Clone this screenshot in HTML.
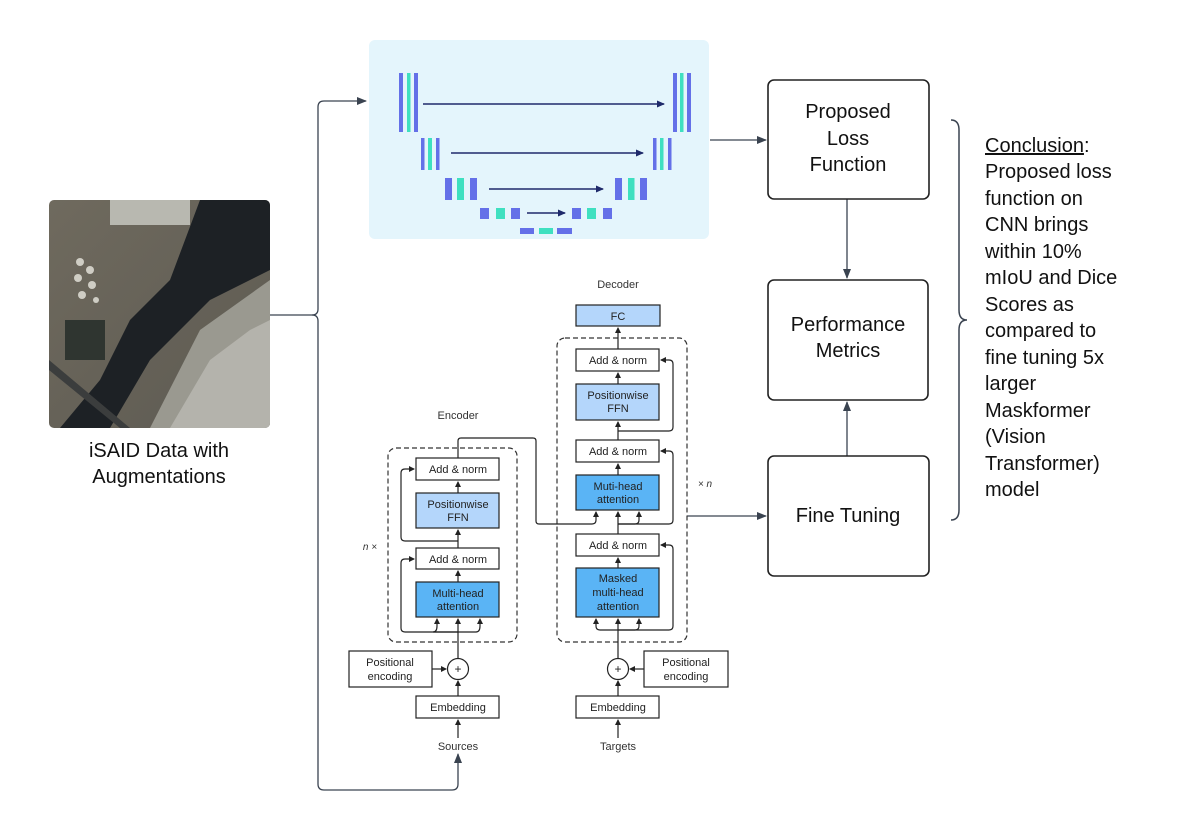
<!DOCTYPE html>
<html><head><meta charset="utf-8"><style>
html,body{margin:0;padding:0;background:#fff}
svg{display:block}
text{font-family:"Liberation Sans",sans-serif}
</style></head><body>
<svg width="1190" height="830" viewBox="0 0 1190 830" xmlns="http://www.w3.org/2000/svg">
<defs>
<marker id="ah" markerWidth="10" markerHeight="10" refX="9" refY="5" orient="auto" markerUnits="userSpaceOnUse"><path d="M0,1 L10,5 L0,9 z" fill="#3a4350"/></marker>
<marker id="as" markerWidth="6" markerHeight="6" refX="5" refY="3" orient="auto" markerUnits="userSpaceOnUse"><path d="M0,0 L6,3 L0,6 z" fill="#222"/></marker>
<marker id="au" markerWidth="8" markerHeight="8" refX="7" refY="4" orient="auto" markerUnits="userSpaceOnUse"><path d="M0,0.5 L8,4 L0,7.5 z" fill="#1f2a6b"/></marker>
<clipPath id="ic"><rect x="49" y="200" width="221" height="228" rx="5"/></clipPath>
<linearGradient id="g1" x1="0" y1="0" x2="1" y2="1"><stop offset="0" stop-color="#6f6a5e"/><stop offset="1" stop-color="#5d5a52"/></linearGradient>
</defs>

<!-- satellite image -->
<g clip-path="url(#ic)">
<rect x="49" y="200" width="221" height="228" fill="url(#g1)"/>
<rect x="110" y="200" width="80" height="25" fill="#b8b8b0"/>
<path d="M200,200 L270,200 L270,270 L210,300 L150,360 L110,428 L60,428 L100,380 L130,320 L170,280 Z" fill="#1d2125"/>
<path d="M150,428 L200,330 L270,280 L270,428 Z" fill="#9a9990"/>
<path d="M170,428 L210,360 L250,330 L270,320 L270,428 Z" fill="#b4b3ac"/>
<rect x="65" y="320" width="40" height="40" fill="#2f3530"/>
<g fill="#cfcdc4"><circle cx="80" cy="262" r="4"/><circle cx="90" cy="270" r="4"/><circle cx="78" cy="278" r="4"/><circle cx="92" cy="285" r="4"/><circle cx="82" cy="295" r="4"/><circle cx="96" cy="300" r="3"/></g>
<path d="M49,360 L130,428 L120,428 L49,370 Z" fill="#3b3d3d"/>
</g>
<text x="159" y="457" font-size="20" text-anchor="middle" fill="#111">iSAID Data with</text>
<text x="159" y="483" font-size="20" text-anchor="middle" fill="#111">Augmentations</text>

<!-- connectors left -->
<g fill="none" stroke="#3a4350" stroke-width="1.3">
<path d="M270,315 H312 Q318,315 318,309 V107 Q318,101 324,101 H366" marker-end="url(#ah)"/>
<path d="M312,315 Q318,315 318,321 V784 Q318,790 324,790 H452 Q458,790 458,784 V754" marker-end="url(#ah)"/>
<path d="M710,140 H766" marker-end="url(#ah)"/>
<path d="M847,199 V278" marker-end="url(#ah)"/>
<path d="M847,456 V402" marker-end="url(#ah)"/>
<path d="M687,516 H766" marker-end="url(#ah)"/>
</g>

<!-- U-Net panel -->
<rect x="369" y="40" width="340" height="199" rx="6" fill="#e4f5fc"/>
<g fill="#6470e8">
<rect x="399" y="73" width="4" height="59"/><rect x="414" y="73" width="4" height="59"/>
<rect x="673" y="73" width="4" height="59"/><rect x="687" y="73" width="4" height="59"/>
<rect x="421" y="138" width="3.5" height="32"/><rect x="436" y="138" width="3.5" height="32"/>
<rect x="653" y="138" width="3.5" height="32"/><rect x="668" y="138" width="3.5" height="32"/>
<rect x="445" y="178" width="7" height="22"/><rect x="470" y="178" width="7" height="22"/>
<rect x="615" y="178" width="7" height="22"/><rect x="640" y="178" width="7" height="22"/>
<rect x="480" y="208" width="9" height="11"/><rect x="511" y="208" width="9" height="11"/>
<rect x="572" y="208" width="9" height="11"/><rect x="603" y="208" width="9" height="11"/>
<rect x="520" y="228" width="14" height="6"/><rect x="557" y="228" width="15" height="6"/>
</g>
<g fill="#3fe0c0">
<rect x="407" y="73" width="3.5" height="59"/><rect x="680" y="73" width="3.5" height="59"/>
<rect x="428" y="138" width="4" height="32"/><rect x="660" y="138" width="3.5" height="32"/>
<rect x="457" y="178" width="7" height="22"/><rect x="628" y="178" width="6.5" height="22"/>
<rect x="496" y="208" width="9" height="11"/><rect x="587" y="208" width="9" height="11"/>
<rect x="539" y="228" width="14" height="6"/>
</g>
<g stroke="#1f2a6b" stroke-width="1.4">
<line x1="423" y1="104" x2="664" y2="104" marker-end="url(#au)"/>
<line x1="451" y1="153" x2="643" y2="153" marker-end="url(#au)"/>
<line x1="489" y1="189" x2="603" y2="189" marker-end="url(#au)"/>
<line x1="527" y1="213" x2="565" y2="213" marker-end="url(#au)"/>
</g>

<!-- right boxes -->
<g fill="#fff" stroke="#222" stroke-width="1.6">
<rect x="768" y="80" width="161" height="119" rx="6"/>
<rect x="768" y="280" width="160" height="120" rx="6"/>
<rect x="768" y="456" width="161" height="120" rx="6"/>
</g>
<g font-size="20" text-anchor="middle" fill="#111">
<text x="848" y="118">Proposed</text><text x="848" y="145">Loss</text><text x="848" y="171">Function</text>
<text x="848" y="331">Performance</text><text x="848" y="357">Metrics</text>
<text x="848" y="522">Fine Tuning</text>
</g>
<path d="M951,120 Q959,120 959,130 V310 Q959,320 967,320 Q959,320 959,330 V510 Q959,520 951,520" fill="none" stroke="#3a4350" stroke-width="1.5"/>
<g font-size="20" fill="#111">
<text x="985" y="152"><tspan text-decoration="underline">Conclusion</tspan>:</text>
<text x="985" y="178">Proposed loss</text>
<text x="985" y="205">function on</text>
<text x="985" y="231">CNN brings</text>
<text x="985" y="258">within 10%</text>
<text x="985" y="284">mIoU and Dice</text>
<text x="985" y="311">Scores as</text>
<text x="985" y="337">compared to</text>
<text x="985" y="364">fine tuning 5x</text>
<text x="985" y="390">larger</text>
<text x="985" y="417">Maskformer</text>
<text x="985" y="443">(Vision</text>
<text x="985" y="470">Transformer)</text>
<text x="985" y="496">model</text>
</g>

<!-- transformer -->
<g font-size="11" fill="#333" text-anchor="middle">
<text x="618" y="288">Decoder</text>
<text x="458" y="419">Encoder</text>
<text x="370" y="550" font-style="italic" font-size="10">n ×</text>
<text x="705" y="487" font-style="italic" font-size="10">× n</text>
<text x="458" y="750">Sources</text>
<text x="618" y="750">Targets</text>
</g>
<g fill="none" stroke="#333" stroke-width="1.2" stroke-dasharray="5,3">
<rect x="388" y="448" width="129" height="194" rx="8"/>
<rect x="557" y="338" width="130" height="304" rx="8"/>
</g>
<g stroke="#222" stroke-width="1.2">
<rect x="576" y="305" width="84" height="21" fill="#b4d6fb"/>
<rect x="576" y="349" width="83" height="22" fill="#fff"/>
<rect x="576" y="384" width="83" height="36" fill="#b4d6fb"/>
<rect x="576" y="440" width="83" height="22" fill="#fff"/>
<rect x="576" y="475" width="83" height="35" fill="#5ab4f5"/>
<rect x="576" y="534" width="83" height="22" fill="#fff"/>
<rect x="576" y="568" width="83" height="49" fill="#5ab4f5"/>
<rect x="644" y="651" width="84" height="36" fill="#fff"/>
<rect x="576" y="696" width="83" height="22" fill="#fff"/>
<rect x="416" y="458" width="83" height="22" fill="#fff"/>
<rect x="416" y="493" width="83" height="35" fill="#b4d6fb"/>
<rect x="416" y="548" width="83" height="21" fill="#fff"/>
<rect x="416" y="582" width="83" height="35" fill="#5ab4f5"/>
<rect x="349" y="651" width="83" height="36" fill="#fff"/>
<rect x="416" y="696" width="83" height="22" fill="#fff"/>
<circle cx="458" cy="669" r="10.5" fill="#fff"/>
<circle cx="618" cy="669" r="10.5" fill="#fff"/>
</g>
<g font-size="11" fill="#222" text-anchor="middle">
<text x="618" y="320">FC</text>
<text x="618" y="364">Add &amp; norm</text>
<text x="618" y="399">Positionwise</text><text x="618" y="412">FFN</text>
<text x="618" y="455">Add &amp; norm</text>
<text x="618" y="490">Muti-head</text><text x="618" y="503">attention</text>
<text x="618" y="549">Add &amp; norm</text>
<text x="618" y="582">Masked</text><text x="618" y="596">multi-head</text><text x="618" y="610">attention</text>
<text x="686" y="666">Positional</text><text x="686" y="680">encoding</text>
<text x="618" y="711">Embedding</text>
<text x="458" y="473">Add &amp; norm</text>
<text x="458" y="508">Positionwise</text><text x="458" y="521">FFN</text>
<text x="458" y="563">Add &amp; norm</text>
<text x="458" y="597">Multi-head</text><text x="458" y="610">attention</text>
<text x="390" y="666">Positional</text><text x="390" y="680">encoding</text>
<text x="458" y="711">Embedding</text>
<text x="458" y="673" font-size="12">+</text>
<text x="618" y="673" font-size="12">+</text>
</g>
<g fill="none" stroke="#222" stroke-width="1.2">
<path d="M458,738 V720" marker-end="url(#as)"/>
<path d="M458,696 V681" marker-end="url(#as)"/>
<path d="M432,669 H446" marker-end="url(#as)"/>
<path d="M458,658 V619" marker-end="url(#as)"/>
<path d="M458,582 V571" marker-end="url(#as)"/>
<path d="M458,548 V530" marker-end="url(#as)"/>
<path d="M458,493 V482" marker-end="url(#as)"/>
<path d="M458,632 H405 Q401,632 401,628 V563 Q401,559 405,559 H414" marker-end="url(#as)"/>
<path d="M458,632 H433 Q437,632 437,626 V619" marker-end="url(#as)"/>
<path d="M458,632 H476 Q480,632 480,626 V619" marker-end="url(#as)"/>
<path d="M458,541 H405 Q401,541 401,537 V473 Q401,469 405,469 H414" marker-end="url(#as)"/>
<path d="M458,458 V441 Q458,438 461,438 H533 Q536,438 536,441 V521 Q536,524 539,524 H592 Q596,524 596,520 V512" marker-end="url(#as)"/>
<path d="M618,738 V720" marker-end="url(#as)"/>
<path d="M618,696 V681" marker-end="url(#as)"/>
<path d="M644,669 H630" marker-end="url(#as)"/>
<path d="M618,658 V619" marker-end="url(#as)"/>
<path d="M618,630 H669 Q673,630 673,626 V549 Q673,545 669,545 H661" marker-end="url(#as)"/>
<path d="M618,630 H600 Q596,630 596,626 V619" marker-end="url(#as)"/>
<path d="M618,630 H635 Q639,630 639,626 V619" marker-end="url(#as)"/>
<path d="M618,568 V558" marker-end="url(#as)"/>
<path d="M618,534 V512" marker-end="url(#as)"/>
<path d="M618,524 H669 Q673,524 673,520 V455 Q673,451 669,451 H661" marker-end="url(#as)"/>
<path d="M618,524 H635 Q639,524 639,520 V512" marker-end="url(#as)"/>
<path d="M618,475 V464" marker-end="url(#as)"/>
<path d="M618,440 V422" marker-end="url(#as)"/>
<path d="M618,431 H669 Q673,431 673,427 V364 Q673,360 669,360 H661" marker-end="url(#as)"/>
<path d="M618,384 V373" marker-end="url(#as)"/>
<path d="M618,349 V328" marker-end="url(#as)"/>
</g>
</svg>
</body></html>
